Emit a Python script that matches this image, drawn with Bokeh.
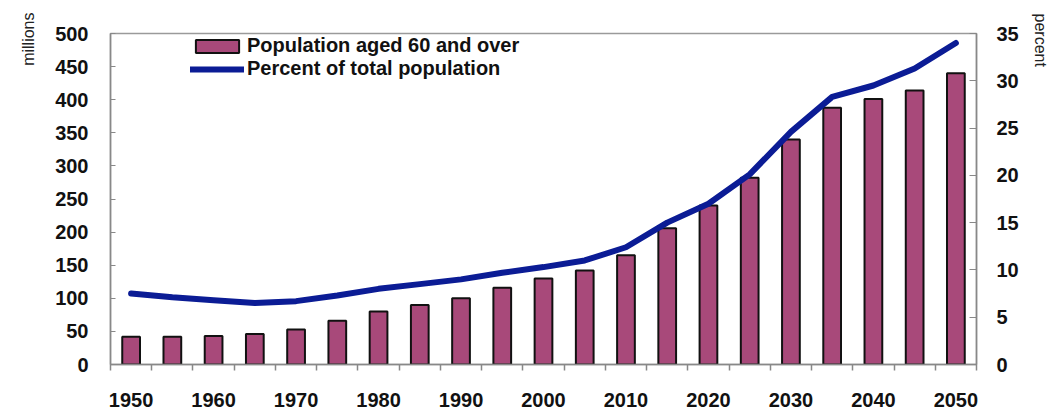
import math
from bokeh.plotting import figure
from bokeh.models import (Range1d, LinearAxis, FixedTicker, Legend, LegendItem, Title)
from bokeh.embed import file_html
from bokeh.resources import INLINE

years = [1950, 1955, 1960, 1965, 1970, 1975, 1980, 1985, 1990, 1995, 2000,
         2005, 2010, 2015, 2020, 2025, 2030, 2035, 2040, 2045, 2050]
population_60_plus = [42, 42, 43, 46, 53, 66, 80, 90, 100, 116, 130,
                      142, 165, 206, 240, 282, 340, 388, 401, 414, 440]
percent_of_total = [7.5, 7.1, 6.8, 6.5, 6.7, 7.3, 8.0, 8.5, 9.0, 9.7, 10.3,
                    11.0, 12.4, 15.0, 17.0, 20.1, 24.6, 28.3, 29.5, 31.3, 34.0]
x_tick_labels = [1950, 1960, 1970, 1980, 1990, 2000, 2010, 2020, 2030, 2040, 2050]
left_ticks = list(range(0, 501, 50))
right_ticks = list(range(0, 36, 5))

FONT = "Liberation Sans"
BAR = "#A8497A"
LINE = "#0B1C95"

p = figure(width=1060, height=412, output_backend="svg", toolbar_location=None,
           x_range=Range1d(1947.5, 2052.5), y_range=Range1d(0, 500),
           min_border_left=110, min_border_right=80, min_border_top=33,
           min_border_bottom=48, x_axis_location=None, y_axis_location=None)
p.extra_y_ranges = {"pct": Range1d(0, 35)}
p.grid.visible = False
p.outline_line_color = "#9a9a9a"
p.outline_line_width = 1.5

bars = p.vbar(x=years, top=population_60_plus, width=2.15, fill_color=BAR,
              line_color="#111111", line_width=2)
line = p.line(x=years, y=percent_of_total, y_range_name="pct", line_color=LINE,
              line_width=6, line_cap="round", line_join="round")

def style(ax):
    ax.major_label_text_font = FONT
    ax.major_label_text_font_style = "bold"
    ax.major_label_text_font_size = "20px"
    ax.major_label_text_color = "#111111"
    ax.axis_line_color = "#888888"
    ax.axis_line_width = 1.5
    ax.major_tick_line_color = "#888888"
    ax.minor_tick_line_color = None

xaxis = LinearAxis(ticker=FixedTicker(ticks=x_tick_labels,
                                      minor_ticks=[y - 2.5 for y in years] + [2052.5]))
style(xaxis)
xaxis.major_tick_line_color = None
xaxis.minor_tick_line_color = "#888888"
xaxis.minor_tick_line_width = 1.5
xaxis.minor_tick_in = 0
xaxis.minor_tick_out = 6
xaxis.major_tick_in = 0
xaxis.major_tick_out = 6
xaxis.major_label_standoff = 22
p.add_layout(xaxis, "below")

yaxis = LinearAxis(ticker=FixedTicker(ticks=left_ticks))
style(yaxis)
yaxis.major_tick_in = 5
yaxis.major_tick_out = 0
yaxis.major_label_standoff = 22
p.add_layout(yaxis, "left")

raxis = LinearAxis(y_range_name="pct", ticker=FixedTicker(ticks=right_ticks))
style(raxis)
raxis.major_tick_in = 7
raxis.major_tick_out = 0
raxis.major_label_standoff = 20
p.add_layout(raxis, "right")

legend = Legend(items=[LegendItem(label="Population aged 60 and over", renderers=[bars]),
                       LegendItem(label="Percent of total population", renderers=[line])],
                location=(80, 284), orientation="vertical", glyph_width=54,
                glyph_height=16, label_text_font=FONT, label_text_font_style="bold",
                label_text_font_size="20px", label_text_color="#111111",
                label_standoff=3, padding=2, spacing=0, margin=0,
                background_fill_alpha=0, border_line_color=None, label_height=22)
p.add_layout(legend, "center")

p.add_layout(Title(text="millions", align="right", offset=-21, standoff=32, text_font=FONT,
                   text_font_style="normal", text_font_size="16px",
                   text_color="#222222"), "left")
p.add_layout(Title(text="percent", align="left", offset=-20, standoff=20, text_font=FONT,
                   text_font_style="normal", text_font_size="16px",
                   text_color="#222222"), "right")

open("out.html", "w").write(file_html(p, INLINE))
